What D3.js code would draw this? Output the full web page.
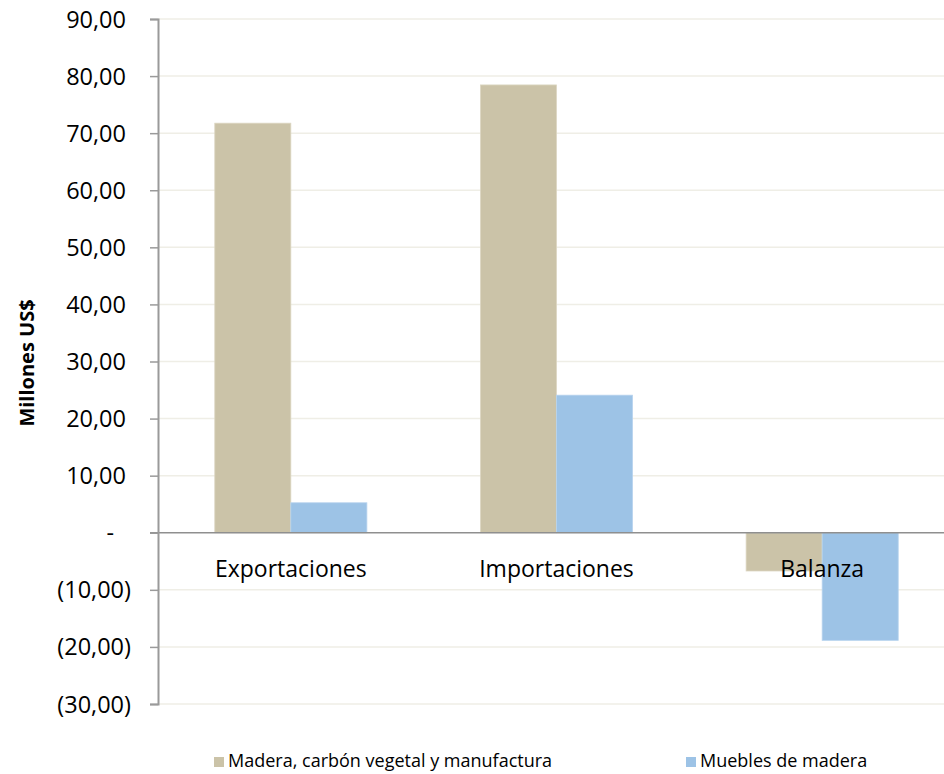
<!DOCTYPE html>
<html><head><meta charset="utf-8">
<script src="https://cdn.jsdelivr.net/npm/d3@7"></script>
<style>body{margin:0;background:#fff}svg{display:block}text{font-family:"Open Sans",Lato,sans-serif;fill:#000}</style>
</head><body><svg id="c" width="944" height="774"></svg>
<script>
const categories = ["Exportaciones", "Importaciones", "Balanza"];
const seriesNames = ["Madera, carbón vegetal y manufactura", "Muebles de madera"];
const madera = [71.75, 78.45, -6.7];
const muebles = [5.25, 24.1, -18.85];
const yTicks = [90, 80, 70, 60, 50, 40, 30, 20, 10, 0, -10, -20, -30];
const colors = ["#cbc3a8", "#9dc3e6"];

const svg = d3.select("#c");
const plotL = 158, plotR = 955, plotT = 19, plotB = 704;
const y = d3.scaleLinear().domain([-30, 90]).range([plotB, plotT]);
const x0 = d3.scaleBand().domain(categories).range([plotL, plotR]).padding(0);
const x1 = d3.scaleBand().domain(seriesNames).range([0, x0.bandwidth()]).paddingInner(0).paddingOuter(0.7467);

const fmt = v => {
  if (v === 0) return "-";
  const s = Math.abs(v).toFixed(2).replace(".", ",");
  return v < 0 ? "(" + s + ")" : s;
};

// gridlines
svg.append("g").selectAll("line").data(yTicks.filter(d => d !== 0)).join("line")
  .attr("x1", plotL).attr("x2", plotR).attr("y1", d => y(d)).attr("y2", d => y(d))
  .attr("stroke", "#efeee6").attr("stroke-width", 1.5);

// bars
const data = categories.map((c, i) => ({c, vals: [madera[i], muebles[i]]}));
const g = svg.append("g");
data.forEach(d => {
  d.vals.forEach((v, j) => {
    g.append("rect")
      .attr("x", x0(d.c) + x1(seriesNames[j]))
      .attr("y", y(Math.max(0, v)))
      .attr("width", x1.bandwidth())
      .attr("height", Math.abs(y(v) - y(0)))
      .attr("fill", colors[j])
      .attr("stroke", j === 0 ? "#dcd6c2" : "#b7d3ee").attr("stroke-width", 0.8);
  });
});

// zero line
svg.append("line").attr("x1", 150).attr("x2", plotR).attr("y1", y(0)).attr("y2", y(0))
  .attr("stroke", "#8f8f8f").attr("stroke-width", 1.5);

// y axis
const yAxis = d3.axisLeft(y).tickValues(yTicks).tickFormat(fmt).tickSize(8).tickPadding(19);
const ya = svg.append("g").attr("transform", `translate(${plotL},0)`).call(yAxis);
ya.select(".domain").attr("stroke", "#9a9a9a").attr("stroke-width", 2);
ya.selectAll(".tick line").attr("stroke", "#9a9a9a").attr("stroke-width", 1.5);
ya.selectAll(".tick text").attr("font-size", 23.5).attr("font-family", "'Open Sans', sans-serif")
  .attr("fill", "#000").attr("dy", "0.34em")
  .attr("dx", d => d < 0 ? 0 : (d === 0 ? -17 : -5));

// y title
svg.append("text").attr("transform", `translate(34,363) rotate(-90)`)
  .attr("text-anchor", "middle").attr("font-size", 20).attr("font-weight", "bold").text("Millones US$");

// category labels
svg.append("g").selectAll("text").data(categories).join("text")
  .attr("x", d => x0(d) + x0.bandwidth() / 2).attr("y", 577)
  .attr("text-anchor", "middle").attr("font-size", 23).text(d => d);

// legend
const legX = [214, 686];
const lg = svg.append("g");
seriesNames.forEach((s, i) => {
  lg.append("rect").attr("x", legX[i]).attr("y", 757).attr("width", 10).attr("height", 10).attr("fill", colors[i]);
  lg.append("text").attr("x", legX[i] + 14).attr("y", 767).attr("font-size", 18).text(s);
});
</script></body></html>
